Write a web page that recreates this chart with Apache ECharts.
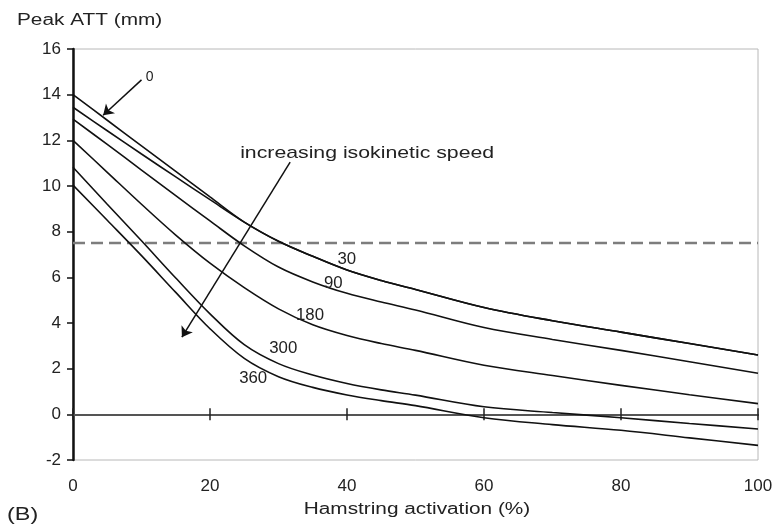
<!DOCTYPE html>
<html><head><meta charset="utf-8">
<script src="https://cdn.jsdelivr.net/npm/echarts@6/dist/echarts.min.js"></script>
<style>html,body{margin:0;padding:0;background:#fff}#c{width:776px;height:531px}</style>
</head><body><div id="c"></div>
<script>
// ---- data ----
const activation = [0,5,10,15,20,25,30,35,40,45,50,60,70,80,90,100];
const att0   = [14.0,12.88,11.76,10.64,9.52,8.42,7.58,6.92,6.32,5.86,5.47,4.68,4.1,3.6,3.1,2.6];
const att30  = [13.45,12.42,11.4,10.4,9.4,8.42,7.58,6.92,6.32,5.86,5.47,4.68,4.1,3.6,3.1,2.6];
const att90  = [12.93,11.82,10.7,9.58,8.47,7.38,6.45,5.8,5.3,4.92,4.57,3.8,3.28,2.8,2.3,1.8];
const att180 = [12.0,10.6,9.2,7.85,6.62,5.55,4.62,3.92,3.45,3.1,2.8,2.15,1.7,1.27,0.86,0.47];
const att300 = [10.82,9.2,7.6,5.97,4.4,3.05,2.22,1.72,1.35,1.07,0.84,0.33,0.08,-0.15,-0.4,-0.64];
const att360 = [10.04,8.5,6.95,5.34,3.75,2.45,1.65,1.18,0.85,0.6,0.38,-0.15,-0.45,-0.7,-1.03,-1.36];
const speeds = ['0','30','90','180','300','360'];
const threshold = 7.5;
const xTicks = [0,20,40,60,80,100];
const yTicks = [-2,0,2,4,6,8,10,12,14,16];

// annotations (data coordinates)
const curveLabels = [['30',39.96,6.79],['90',38.0,5.73],['180',34.6,4.34],['300',30.7,2.88],['360',26.3,1.57]];
const zeroLabel = ['0',11.2,14.78];
const arrows = [[[10.0,14.65],[4.4,13.1]], [[31.7,11.05],[15.9,3.38]]];
const note = ['increasing isokinetic speed', 24.4, 11.45];

const FONT = '"Liberation Sans", Arial, sans-serif';
const curves = [att0, att30, att90, att180, att300, att360];

const chart = echarts.init(document.getElementById('c'), null, {renderer:'canvas'});

const xStep = xTicks[1]-xTicks[0], yStep = yTicks[1]-yTicks[0];
const baseX = {type:'value', min:xTicks[0], max:xTicks[xTicks.length-1], interval:xStep, splitLine:{show:false}};

const series = curves.map((arr, k) => ({
  name: speeds[k], type:'line', showSymbol:false, smooth:0.35,
  data: activation.map((x,i)=>[x, arr[i]]),
  lineStyle:{color:'#111', width:1.6}, silent:true, z:3
}));
series.push({
  name:'threshold', type:'line', showSymbol:false, silent:true,
  data: [[xTicks[0], threshold],[xTicks[xTicks.length-1], threshold]],
  lineStyle:{color:'#7d7d7d', width:2.5, type:[12,6]}, z:2,
  markLine:{
    silent:true, symbol:['none','arrow'], symbolSize:10, animation:false,
    label:{show:false},
    lineStyle:{type:'solid', color:'#111', width:1.5},
    data: arrows.map(a => [{coord:a[0]},{coord:a[1]}])
  }
});

chart.setOption({
  animation:false,
  backgroundColor:'#fff',
  grid:{left:73, right:18, top:49, bottom:71, show:true, borderColor:'#b8b8b8', borderWidth:1, containLabel:false, outerBoundsMode:'none'},
  xAxis:[
    Object.assign({}, baseX, {position:'bottom', axisLine:{show:false, onZero:false}, axisTick:{show:false},
      axisLabel:{margin:18, fontSize:17, color:'#222', fontFamily:FONT}}),
    Object.assign({}, baseX, {position:'bottom', axisLine:{show:true, onZero:true, onZeroAxisIndex:0, lineStyle:{color:'#555', width:2.2}},
      axisTick:{show:true, inside:false, length:6, lineStyle:{color:'#222', width:1.5}}, axisLabel:{show:false}}),
    Object.assign({}, baseX, {position:'bottom', axisLine:{show:true, onZero:true, onZeroAxisIndex:0, lineStyle:{color:'#555', width:2.2}},
      axisTick:{show:true, inside:true, length:6, lineStyle:{color:'#222', width:1.5}}, axisLabel:{show:false}})
  ],
  yAxis:{type:'value', min:yTicks[0], max:yTicks[yTicks.length-1], interval:yStep, splitLine:{show:false},
    axisLine:{show:true, onZero:false, lineStyle:{color:'#111', width:2.5}},
    axisTick:{show:true, length:6, lineStyle:{color:'#111', width:1.5}},
    axisLabel:{margin:12, fontSize:17, color:'#222', fontFamily:FONT}},
  series
});

const px = (x,y) => chart.convertToPixel({xAxisIndex:0, yAxisIndex:0}, [x,y]);
const txt = (text, x, y, size, align, sx) => ({type:'text', x, y, scaleX:sx||1, silent:true, z:10,
  style:{text, fill:'#222', font: size+'px '+FONT, align:align, verticalAlign:'middle'}});

const g = [];
curveLabels.forEach(l => { const p = px(l[1], l[2]); g.push(txt(l[0], p[0], p[1], 16, 'center', 1.05)); });
{ const p = px(zeroLabel[1], zeroLabel[2]); g.push(txt(zeroLabel[0], p[0], p[1], 14, 'center', 1)); }
{ const p = px(note[1], note[2]); g.push(txt(note[0], p[0], p[1], 17, 'left', 1.25)); }
g.push(txt('Peak ATT (mm)', 17, 21, 16, 'left', 1.3));
g.push(txt('Hamstring activation (%)', 417, 510, 16, 'center', 1.3));
g.push(txt('(B)', 7, 515, 18, 'left', 1.3));
chart.setOption({graphic: g});
</script></body></html>
